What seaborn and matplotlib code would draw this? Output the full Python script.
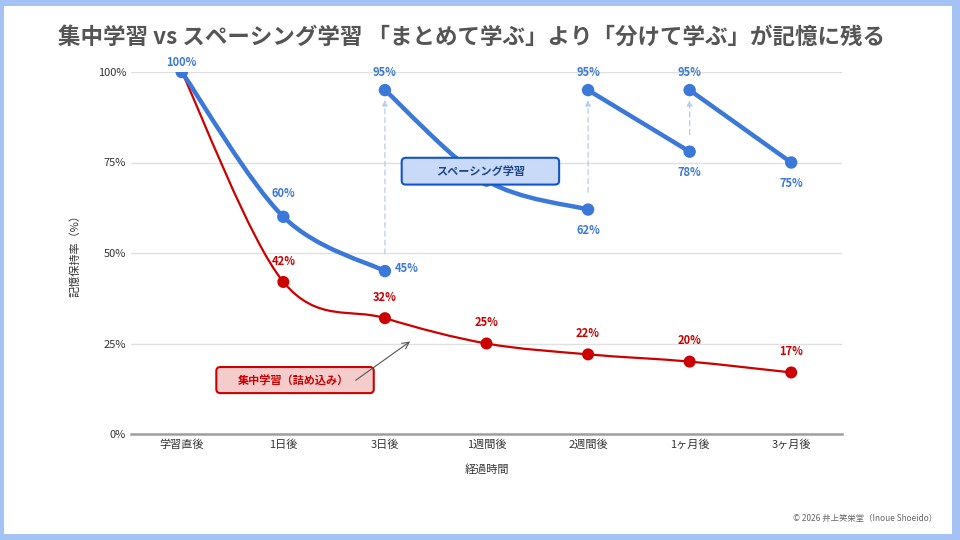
import numpy as np
import matplotlib
matplotlib.use("Agg")
import matplotlib.pyplot as plt
import seaborn as sns
from matplotlib.path import Path
from matplotlib.patches import PathPatch, FancyBboxPatch, Rectangle

# data
stages = ['学習直後', '1日後', '3日後', '1週間後', '2週間後', '1ヶ月後', '3ヶ月後']
cram = [100, 42, 32, 25, 22, 20, 17]
spaced_x = [[0, 1, 2], [2, 3, 4], [4, 5], [5, 6]]
spaced_y = [[100, 60, 45], [95, 70, 62], [95, 78], [95, 75]]
review_at = [2, 4, 5]
review_to = 95
y_ticks = [0, 25, 50, 75, 100]

BLUE = '#3c78d8'
RED = '#cc0000'

sns.set_theme(style='white')
plt.rcParams['font.family'] = ['Noto Sans CJK JP', 'DejaVu Sans']


def smooth_path(xs, ys, t=1 / 6):
    # catmull-rom style bezier through the points
    pts = np.column_stack([xs, ys]).astype(float)
    n = len(pts)
    verts = [pts[0]]
    codes = [Path.MOVETO]
    for i in range(n - 1):
        p0 = pts[i - 1] if i > 0 else pts[i]
        p3 = pts[i + 2] if i + 2 < n else pts[i + 1]
        c1 = pts[i] + (pts[i + 1] - p0) * t
        c2 = pts[i + 1] - (p3 - pts[i]) * t
        verts += [c1, c2, pts[i + 1]]
        codes += [Path.CURVE4] * 3
    return Path(verts, codes)


fig = plt.figure(figsize=(9.6, 5.4), dpi=100)
fig.patch.set_facecolor('#a4c2f4')
fig.patches.append(Rectangle((4 / 960, 6 / 540), 948 / 960, 528 / 540,
                             transform=fig.transFigure, facecolor='white',
                             edgecolor='none', zorder=-1))

ax = fig.add_axes([131 / 960, 1 - 434 / 540, 711 / 960, 362 / 540])
ax.set_zorder(1)
ax.set_facecolor('none')

# red line (cramming)
ax.add_patch(PathPatch(smooth_path(range(len(cram)), cram), facecolor='none',
                       edgecolor=RED, lw=1.6, zorder=3))
sns.scatterplot(x=list(range(len(cram))), y=cram, color=RED, s=75,
                edgecolor='none', ax=ax, zorder=4)

# blue segments (spacing)
for xs, ys in zip(spaced_x, spaced_y):
    ax.add_patch(PathPatch(smooth_path(xs, ys), facecolor='none',
                           edgecolor=BLUE, lw=3.2, capstyle='round', zorder=5))
    sns.scatterplot(x=xs, y=ys, color=BLUE, s=80, edgecolor='none', ax=ax, zorder=6)

# review arrows
for x in review_at:
    start = [y for xs, ys in zip(spaced_x, spaced_y) for xx, y in zip(xs, ys) if xx == x][0]
    ax.annotate('', xy=(x, review_to - 2), xytext=(x, start + 4),
                arrowprops=dict(arrowstyle='-|>', color='#b4cbf2', lw=0.9,
                                linestyle=(0, (4, 3)), mutation_scale=8),
                zorder=2)

# value labels
lab_kw = dict(textcoords='offset points', ha='center', va='center',
              fontsize=8, fontweight='bold', annotation_clip=False)
for i, v in enumerate(cram):
    if i == 0:
        continue
    ax.annotate(f'{v}%', (i, v), xytext=(0, 15), color=RED, **lab_kw)
for xs, ys in zip(spaced_x, spaced_y):
    last = len(xs) - 1
    for j, (x, y) in enumerate(zip(xs, ys)):
        if x == 3:
            continue
        if y == 100:
            off = (0, 7)
        elif j == last and x == 2:
            off = (16, 2)
        elif j == 0:
            off = (0, 13)
        elif j < last:
            off = (0, 17)
        else:
            off = (0, -15)
        ax.annotate(f'{y}%', (x, y), xytext=off, color=BLUE, **lab_kw)

# label boxes
asp = (4 / 3.62) / 0.04
box_b = FancyBboxPatch((3 - 0.835, 72.6 - 3.7), 1.55, 7.4,
                       boxstyle='round,pad=0,rounding_size=0.04',
                       mutation_aspect=asp, facecolor='#c9daf8',
                       edgecolor='#1155cc', lw=1.5, zorder=8)
ax.add_patch(box_b)
ax.text(3 - 0.06, 72.6, 'スペーシング学習', ha='center', va='center',
        fontsize=8, fontweight='bold', color='#1c4587', zorder=9)

box_r = FancyBboxPatch((1.1 - 0.76, 14.9 - 3.6), 1.55, 7.2,
                       boxstyle='round,pad=0,rounding_size=0.04',
                       mutation_aspect=asp, facecolor='#f4cccc',
                       edgecolor=RED, lw=1.5, zorder=8)
ax.add_patch(box_r)
ax.text(1.1, 14.9, '集中学習（詰め込み）', ha='center', va='center',
        fontsize=8, fontweight='bold', color=RED, zorder=9)
ax.annotate('', xy=(2.27, 26), xytext=(1.69, 14.4),
            arrowprops=dict(arrowstyle='->', color='#555555', lw=0.8), zorder=9)

# axes styling
ax.set_xlim(-0.5, 6.5)
ax.set_ylim(0, 100)
ax.set_xticks(range(len(stages)))
ax.set_xticklabels(stages)
ax.set_yticks(y_ticks)
ax.set_yticklabels([f'{t}%' for t in y_ticks])
ax.tick_params(axis='both', length=0, labelsize=8, labelcolor='#333333')
ax.tick_params(axis='x', pad=4)
ax.grid(axis='y', color='#e0e0e0', lw=1)
for s in ['top', 'right', 'left']:
    ax.spines[s].set_visible(False)
ax.spines['bottom'].set_color('#9e9e9e')
ax.spines['bottom'].set_linewidth(1.8)
ax.set_xlabel('経過時間', fontsize=8, color='#333333', labelpad=10)
ax.set_ylabel('記憶保持率（%）', fontsize=8, color='#333333', labelpad=12)

fig.text(58 / 960, 1 - 37 / 540,
         '集中学習 vs スペーシング学習 「まとめて学ぶ」より「分けて学ぶ」が記憶に残る',
         fontsize=16.2, fontweight='bold', color='#555555', va='center', ha='left')
fig.text(937 / 960, 1 - 518 / 540, '© 2026 井上笑栄堂（Inoue Shoeido）',
         fontsize=6, color='#666666', ha='right', va='center')

fig.savefig('out.png', dpi=100)
